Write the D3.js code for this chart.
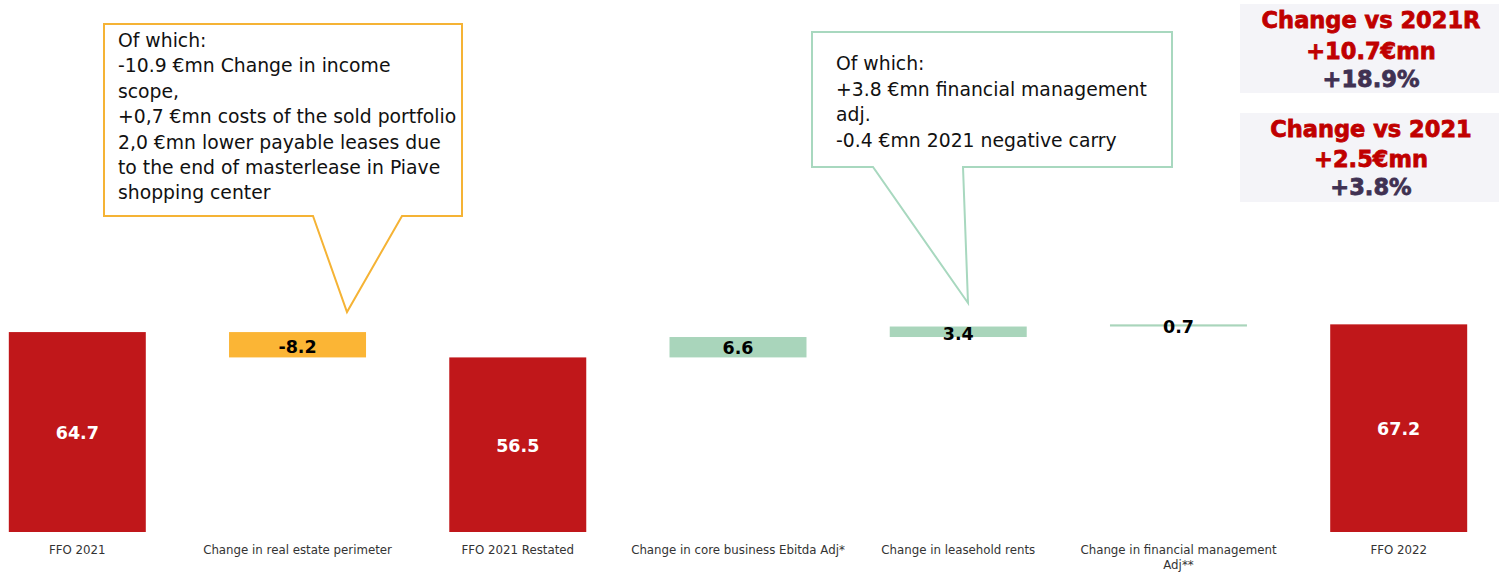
<!DOCTYPE html>
<html>
<head>
<meta charset="utf-8">
<script src="https://cdn.jsdelivr.net/npm/d3@7"></script>
<style>
  body { margin: 0; background: #fff; }
  svg { display: block; }
</style>
</head>
<body>
<div id="chart"></div>
<script>
// chart data
const categories = ["FFO 2021", "Change in real estate perimeter", "FFO 2021 Restated",
  "Change in core business Ebitda Adj*", "Change in leasehold rents",
  "Change in financial management Adj**", "FFO 2022"];
const tickLabels = [["FFO 2021"], ["Change in real estate perimeter"], ["FFO 2021 Restated"],
  ["Change in core business Ebitda Adj*"], ["Change in leasehold rents"],
  ["Change in financial management", "Adj**"], ["FFO 2022"]];
const values = [64.7, -8.2, 56.5, 6.6, 3.4, 0.7, 67.2];
const kinds = ["total", "delta", "total", "delta", "delta", "delta", "total"];
const valueLabels = ["64.7", "-8.2", "56.5", "6.6", "3.4", "0.7", "67.2"];

const note1 = ["Of which:", "-10.9 €mn Change in income", "scope,",
  "+0,7 €mn costs of the sold portfolio", "2,0 €mn lower payable leases due",
  "to the end of masterlease in Piave", "shopping center"];
const note2 = ["Of which:", "+3.8 €mn financial management", "adj.", "-0.4 €mn 2021 negative carry"];

const summary1 = ["Change vs 2021R", "+10.7€mn", "+18.9%"];
const summary2 = ["Change vs 2021", "+2.5€mn", "+3.8%"];

const width = 1499, height = 572;
const RED = "#c0171a", ORANGE = "#fbb535", GREEN = "#a9d5bb";

const svg = d3.select("#chart").append("svg")
  .attr("width", width)
  .attr("height", height);

const x = d3.scaleBand()
  .domain(categories)
  .range([0, 1476])
  .paddingInner(0.378)
  .paddingOuter(0.04);

const y = d3.scaleLinear()
  .domain([0, 70])
  .range([532, 315.7]);

// waterfall start / end for each bar
let running = 0;
const bars = categories.map((c, i) => {
  let y0, y1;
  if (kinds[i] === "total") {
    y0 = 0; y1 = values[i]; running = values[i];
  } else {
    y0 = running; y1 = running + values[i]; running = y1;
  }
  return { cat: c, kind: kinds[i], v: values[i], lo: Math.min(y0, y1), hi: Math.max(y0, y1), label: valueLabels[i] };
});

const color = d => d.kind === "total" ? RED : (d.v < 0 ? ORANGE : GREEN);

svg.append("g").selectAll("rect")
  .data(bars)
  .join("rect")
  .attr("x", d => x(d.cat))
  .attr("y", d => y(d.hi))
  .attr("width", x.bandwidth())
  .attr("height", d => Math.max(2, y(d.lo) - y(d.hi)))
  .attr("fill", color);

svg.append("g").selectAll("text")
  .data(bars)
  .join("text")
  .attr("x", d => x(d.cat) + x.bandwidth() / 2)
  .attr("y", d => (y(d.lo) + y(d.hi)) / 2 + 7 + (d.kind === "delta" && d.v < 4 ? 1 : 0))
  .attr("text-anchor", "middle")
  .attr("font-family", "DejaVu Sans, sans-serif")
  .attr("font-weight", "bold")
  .attr("font-size", 17.5)
  .attr("fill", d => d.kind === "total" ? "#fff" : "#000")
  .text(d => d.label);

// category axis
const xAxis = svg.append("g")
  .attr("transform", "translate(0, 542)")
  .call(d3.axisBottom(x).tickSize(0).tickFormat(""));
xAxis.select(".domain").remove();
xAxis.selectAll(".tick").append("text")
  .attr("font-family", "DejaVu Sans, sans-serif")
  .attr("font-size", 11.8)
  .attr("fill", "#333")
  .attr("text-anchor", "middle")
  .selectAll("tspan")
  .data((d, i) => tickLabels[i])
  .join("tspan")
  .attr("x", 0)
  .attr("y", (d, j) => 12 + j * 15)
  .text(d => d);

// callouts
function callout(box, tail, stroke, lines, textX, firstY, lineH) {
  const [l, t, r, b] = box;
  const [ta, tip, tb] = tail;
  const p = d3.path();
  p.moveTo(l, t); p.lineTo(r, t); p.lineTo(r, b);
  p.lineTo(tb, b); p.lineTo(tip[0], tip[1]); p.lineTo(ta, b);
  p.lineTo(l, b); p.closePath();
  svg.append("path")
    .attr("d", p.toString())
    .attr("fill", "#fff")
    .attr("stroke", stroke)
    .attr("stroke-width", 2);
  svg.append("text")
    .attr("font-family", "DejaVu Sans, sans-serif")
    .attr("font-size", 18.8)
    .attr("fill", "#111")
    .selectAll("tspan")
    .data(lines)
    .join("tspan")
    .attr("x", textX)
    .attr("y", (d, i) => firstY + i * lineH)
    .text(d => d);
}

callout([104, 24, 462, 216], [313, [347, 312], 402], "#f5b335", note1, 118, 47, 25.4);
callout([812, 32, 1172, 167], [873, [968, 303], 963], "#a8d8bf", note2, 836, 70, 25.6);

// summary boxes
function summary(top, lines, baselines) {
  svg.append("rect")
    .attr("x", 1240).attr("y", top)
    .attr("width", 259).attr("height", 89)
    .attr("fill", "#f4f4f8");
  svg.append("g").selectAll("text")
    .data(lines)
    .join("text")
    .attr("x", 1371)
    .attr("y", (d, i) => baselines[i])
    .attr("text-anchor", "middle")
    .attr("font-family", "DejaVu Sans, sans-serif")
    .attr("font-weight", "bold")
    .attr("font-size", 22.5)
    .attr("stroke", (d, i) => i === 2 ? "#403152" : "#c00000")
    .attr("stroke-width", 0.8)
    .attr("fill", (d, i) => i === 2 ? "#403152" : "#c00000")
    .text(d => d);
}
summary(4, summary1, [28, 59, 87]);
summary(113, summary2, [137, 167, 195]);
</script>
</body>
</html>
